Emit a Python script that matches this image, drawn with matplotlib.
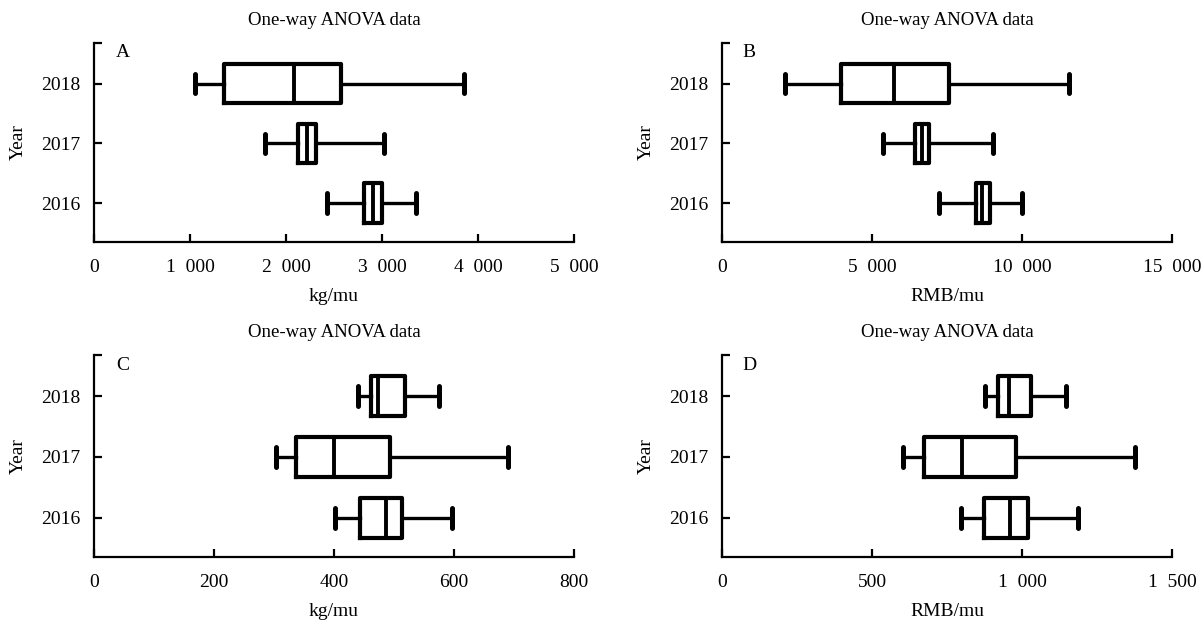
import numpy as np
import matplotlib.pyplot as plt

plt.rcParams['font.family'] = ['Liberation Serif', 'DejaVu Serif']

# years on the y axis (bottom to top)
years = ['2016', '2017', '2018']

# A: yield, kg/mu
a_low = [2422, 1785, 1056]
a_q1 = [2809, 2126, 1355]
a_med = [2908, 2220, 2080]
a_q3 = [3000, 2310, 2570]
a_high = [3355, 3020, 3857]

# B: output value, RMB/mu
b_low = [7238, 5378, 2106]
b_q1 = [8450, 6433, 3957]
b_med = [8650, 6656, 5744]
b_q3 = [8935, 6900, 7557]
b_high = [9995, 9025, 11552]

# C: kg/mu
c_low = [402, 303, 440]
c_q1 = [443, 337, 461]
c_med = [486, 400, 474]
c_q3 = [513, 493, 518]
c_high = [596, 690, 575]

# D: RMB/mu
d_low = [798, 604, 878]
d_q1 = [874, 673, 919]
d_med = [961, 800, 957]
d_q3 = [1021, 980, 1030]
d_high = [1187, 1376, 1145]

a_ticks = [0, 1000, 2000, 3000, 4000, 5000]
b_ticks = [0, 5000, 10000, 15000]
c_ticks = [0, 200, 400, 600, 800]
d_ticks = [0, 500, 1000, 1500]


def fmt(v):
    # thousands separated by a wide space, as in the original
    return format(v, ',').replace(',', '  ')


def panel(ax, lo, q1, med, q3, hi, ticks, xlabel, letter):
    stats = [dict(whislo=lo[i], q1=q1[i], med=med[i], q3=q3[i], whishi=hi[i], fliers=[])
             for i in range(len(years))]
    pos = np.arange(1, len(years) + 1)
    ax.bxp(stats, positions=pos, widths=0.66, orientation='horizontal', showfliers=False,
           boxprops=dict(color='black', linewidth=3.0, solid_joinstyle='round'),
           medianprops=dict(color='black', linewidth=2.8),
           whiskerprops=dict(color='black', linewidth=2.4),
           capprops=dict(color='black', linewidth=3.6, solid_capstyle='round'))
    ax.set_ylim(0.35, 3.68)
    ax.set_xlim(ticks[0], ticks[-1])
    ax.set_yticks(pos)
    ax.set_yticklabels(years)
    ax.set_yticks([3.68], minor=True)
    ax.set_xticks(ticks)
    ax.set_xticklabels([fmt(t) for t in ticks])
    for s in ['top', 'right']:
        ax.spines[s].set_visible(False)
    for s in ['left', 'bottom']:
        ax.spines[s].set_linewidth(1.6)
    ax.tick_params(axis='both', which='both', direction='in', length=6, width=1.6,
                   labelsize=14)
    ax.tick_params(axis='x', pad=12)
    ax.tick_params(axis='y', pad=10)
    ax.set_xlabel(xlabel, fontsize=14, labelpad=9)
    ax.set_ylabel('Year', fontsize=14, labelpad=10)
    ax.set_title('One-way ANOVA data', fontsize=13.5, pad=13)
    ax.text(0.06, 0.95, letter, transform=ax.transAxes, fontsize=14,
            ha='center', va='center')


fig = plt.figure(figsize=(12.01, 6.23), dpi=100)
axA = fig.add_axes([0.0783, 0.6116, 0.3997, 0.3194])
axB = fig.add_axes([0.6012, 0.6116, 0.3747, 0.3194])
axC = fig.add_axes([0.0783, 0.1059, 0.3997, 0.3242])
axD = fig.add_axes([0.6012, 0.1059, 0.3747, 0.3242])

panel(axA, a_low, a_q1, a_med, a_q3, a_high, a_ticks, 'kg/mu', 'A')
panel(axB, b_low, b_q1, b_med, b_q3, b_high, b_ticks, 'RMB/mu', 'B')
panel(axC, c_low, c_q1, c_med, c_q3, c_high, c_ticks, 'kg/mu', 'C')
panel(axD, d_low, d_q1, d_med, d_q3, d_high, d_ticks, 'RMB/mu', 'D')

fig.savefig('out.png', dpi=100)
